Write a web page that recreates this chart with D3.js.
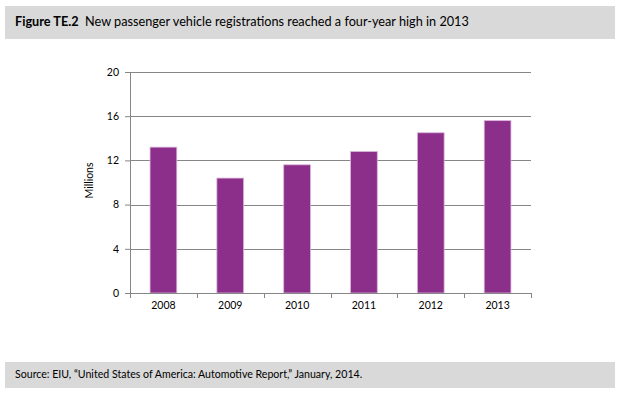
<!DOCTYPE html>
<html>
<head>
<meta charset="utf-8">
<script src="https://cdn.jsdelivr.net/npm/d3@7"></script>
<style>
  body { margin: 0; background: #fff; }
  svg { display: block; font-family: Lato, "Open Sans", sans-serif; }
</style>
</head>
<body>
<div id="chart"></div>
<script>
var years = ['2008', '2009', '2010', '2011', '2012', '2013'];
var registrations = [13.2, 10.4, 11.6, 12.8, 14.5, 15.6];
var yTicks = [0, 4, 8, 12, 16, 20];

var width = 630, height = 398;
var margin = {top: 72, right: 99, bottom: 105, left: 130};
var chartWidth = width - margin.left - margin.right;
var chartHeight = height - margin.top - margin.bottom;

var svg = d3.select('#chart')
  .append('svg')
  .attr('width', width)
  .attr('height', height);

// title band
svg.append('rect')
  .attr('x', 5).attr('y', 6)
  .attr('width', 610).attr('height', 33)
  .attr('fill', '#d9d9d9');

var title = svg.append('text')
  .attr('x', 15).attr('y', 26)
  .attr('font-size', '12.7px')
  .attr('fill', '#000');
title.append('tspan').attr('font-weight', 'bold').text('Figure TE.2');
title.append('tspan').text('\u00a0\u00a0New passenger vehicle registrations reached a four-year high in 2013');

// source band
svg.append('rect')
  .attr('x', 5).attr('y', 362)
  .attr('width', 610).attr('height', 26)
  .attr('fill', '#d9d9d9');

svg.append('text')
  .attr('x', 15).attr('y', 378)
  .attr('font-size', '10.6px')
  .attr('fill', '#000')
  .text('Source: EIU, \u201cUnited States of America: Automotive Report,\u201d January, 2014.');

var g = svg.append('g')
  .attr('transform', 'translate(' + margin.left + ',' + margin.top + ')');

var x = d3.scaleBand()
  .domain(years)
  .range([0, chartWidth])
  .padding(0);

var y = d3.scaleLinear()
  .domain([0, 20])
  .range([chartHeight, 0]);

// gridlines
g.append('g')
  .selectAll('line')
  .data(yTicks.filter(function(d){ return d > 0; }))
  .enter().append('line')
  .attr('x1', 0).attr('x2', chartWidth)
  .attr('y1', function(d){ return Math.round(y(d)) + 0.5; })
  .attr('y2', function(d){ return Math.round(y(d)) + 0.5; })
  .attr('stroke', '#868686')
  .attr('stroke-width', 1);

// bars
var barW = x.bandwidth() * 0.4;
g.append('g')
  .selectAll('rect')
  .data(registrations)
  .enter().append('rect')
  .attr('x', function(d, i){ return x(years[i]) + (x.bandwidth() - barW) / 2; })
  .attr('y', function(d){ return y(d); })
  .attr('width', barW)
  .attr('height', function(d){ return chartHeight - y(d); })
  .attr('fill', '#8b2f8b')
  .attr('stroke', '#d9b3d9')
  .attr('stroke-width', 0.8);

// y axis
var yAxis = g.append('g')
  .call(d3.axisLeft(y).tickValues(yTicks).tickSize(5).tickPadding(6).tickFormat(d3.format('d')));
yAxis.select('.domain').attr('stroke', '#868686');
yAxis.selectAll('.tick line').attr('stroke', '#868686');
yAxis.selectAll('text')
  .attr('font-family', 'Lato, sans-serif')
  .attr('font-size', '10.5px')
  .attr('fill', '#000');

// x axis
var xAxis = g.append('g')
  .attr('transform', 'translate(0,' + chartHeight + ')')
  .call(d3.axisBottom(x).tickSize(0).tickPadding(9));
xAxis.select('.domain').attr('stroke', '#868686').attr('d', 'M0.5,0.5H' + chartWidth);
xAxis.selectAll('text')
  .attr('font-family', 'Lato, sans-serif')
  .attr('font-size', '10.5px')
  .attr('fill', '#000');

// category boundary ticks
g.append('g')
  .selectAll('line')
  .data(d3.range(years.length + 1))
  .enter().append('line')
  .attr('x1', function(i){ return Math.round(i * x.step()) + 0.5; })
  .attr('x2', function(i){ return Math.round(i * x.step()) + 0.5; })
  .attr('y1', chartHeight)
  .attr('y2', chartHeight + 5)
  .attr('stroke', '#868686');

// y label
g.append('text')
  .attr('transform', 'rotate(-90)')
  .attr('x', -chartHeight / 2 + 2)
  .attr('y', -37)
  .attr('text-anchor', 'middle')
  .attr('font-size', '10.5px')
  .attr('fill', '#000')
  .text('Millions');
</script>
</body>
</html>
